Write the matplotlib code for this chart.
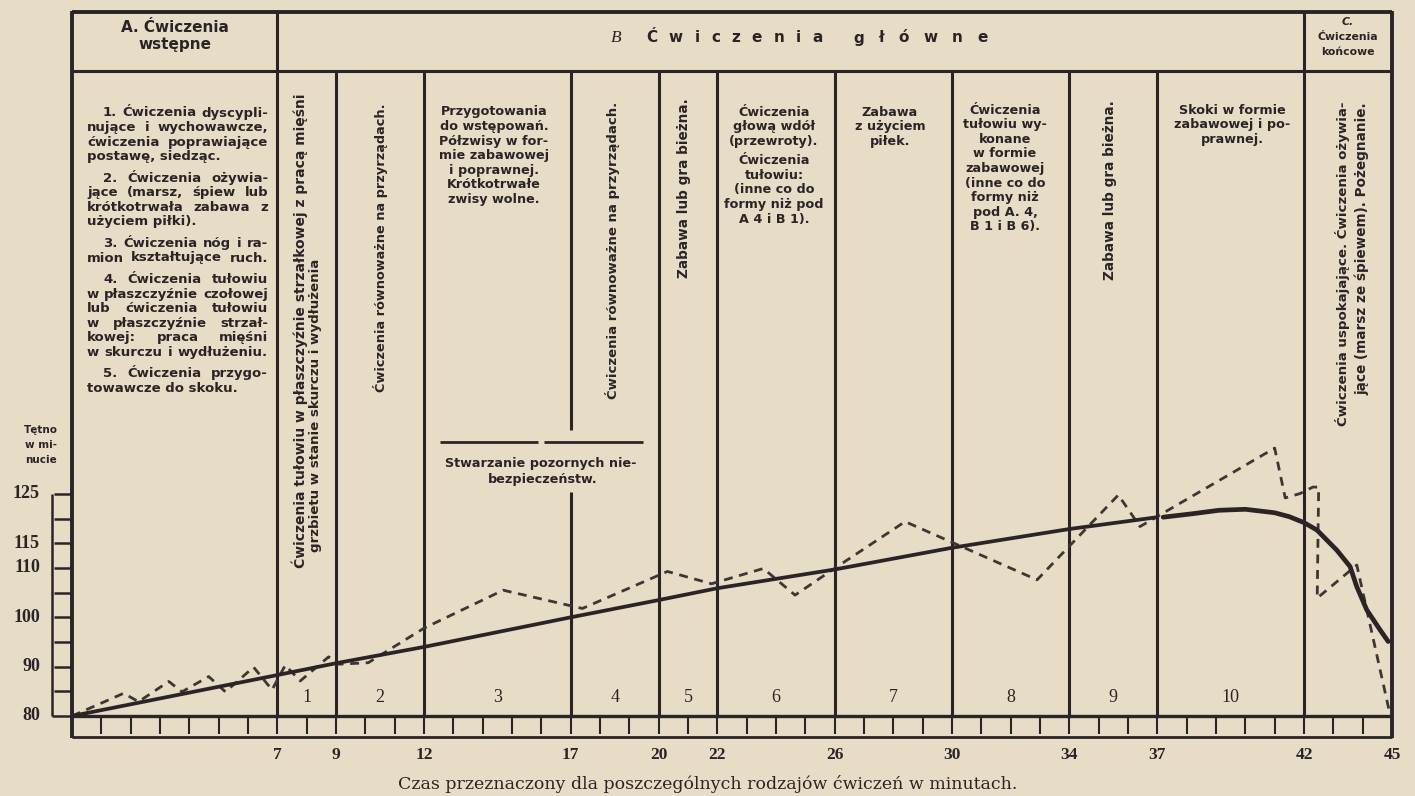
import matplotlib
matplotlib.use("Agg")
import matplotlib.pyplot as plt
from matplotlib.transforms import blended_transform_factory as blend

# ---------------------------------------------------------------- data
# boundaries between the exercise blocks (minutes)
block_edges = [7, 9, 12, 17, 20, 22, 26, 30, 34, 37, 42]
minute_labels = [7, 9, 12, 17, 20, 22, 26, 30, 34, 37, 42, 45]
block_numbers = ["1", "2", "3", "4", "5", "6", "7", "8", "9", "10"]
block_centres = [8, 10.5, 14.5, 18.5, 21, 24, 28, 32, 35.5, 39.5]
pulse_ticks = [80, 85, 90, 95, 100, 105, 110, 115, 120, 125]
pulse_labels = [80, 90, 100, 110, 115, 125]

# averaged pulse course (solid line), minutes 0-37
trend_min = [0, 7, 9, 12, 17, 20, 22, 26, 30, 34, 37]
trend_pulse = [80, 88.3, 90.7, 94.0, 100.0, 103.5, 105.9, 109.7, 114.1, 117.9, 120.3]

# averaged pulse course, closing part (minutes 37-45)
finish_min = [37.2, 38.2, 39.1, 40.0, 41.0, 41.5, 42.0, 42.44, 43.12, 43.57,
              43.8, 44.14, 44.6, 44.87]
finish_pulse = [120.3, 121.0, 121.7, 121.9, 121.2, 120.4, 119.2, 117.7, 113.6,
                110.3, 106.2, 101.5, 97.4, 95.1]

# measured pulse (dashed line)
pulse_min = [0, 1.76, 2.27, 3.3, 3.75, 4.66, 5.23, 6.19, 6.82, 7.27, 7.78, 8.75,
             9.1, 10.1, 12.0, 14.7, 17.4, 20.3, 21.8, 23.57, 24.65, 25.84, 28.4,
             32.9, 35.67, 36.41, 41.0, 41.36, 41.87, 42.3, 42.5, 42.45, 43.8, 44.9]
pulse_val = [80, 84.6, 82.9, 87.0, 84.9, 88.0, 84.9, 89.9, 85.3, 90.3, 87.1, 92.0,
             90.5, 90.8, 97.8, 105.5, 101.8, 109.3, 106.8, 109.9, 104.5, 109.3, 119.4,
             107.6, 124.8, 118.4, 134.3, 124.2, 125.1, 126.4, 126.4, 103.9, 110.6, 81.2]

header_a = ["A. Ćwiczenia", "wstępne"]
header_b_letter = "B"
header_b_words = ["Ćwiczenia", "główne"]
header_c = ["C.", "Ćwiczenia", "końcowe"]

intro_paragraphs = [
    ["1. Ćwiczenia dyscypli-", "nujące i wychowawcze,", "ćwiczenia poprawiające",
     "postawę, siedząc."],
    ["2. Ćwiczenia ożywia-", "jące (marsz, śpiew lub", "krótkotrwała zabawa z",
     "użyciem piłki)."],
    ["3. Ćwiczenia nóg i ra-", "mion kształtujące ruch."],
    ["4. Ćwiczenia tułowiu", "w płaszczyźnie czołowej", "lub ćwiczenia tułowiu",
     "w płaszczyźnie strzał-", "kowej: praca mięśni", "w skurczu i wydłużeniu."],
    ["5. Ćwiczenia przygo-", "towawcze do skoku."],
]
# paragraph endings that are set ragged instead of justified
ragged_lines = ["postawę, siedząc.", "użyciem piłki).", "towawcze do skoku."]

block1_text = ["Ćwiczenia tułowiu w płaszczyźnie strzałkowej z pracą mięśni",
               "grzbietu w stanie skurczu i wydłużenia"]
balance_text = "Ćwiczenia równoważne na przyrządach."
run_game_text = "Zabawa lub gra bieżna."
block3_text = ["Przygotowania", "do wstępowań.", "Półzwisy w for-", "mie zabawowej",
               "i poprawnej.", "Krótkotrwałe", "zwisy wolne."]
danger_text = ["Stwarzanie pozornych nie-", "bezpieczeństw."]
block6_text = ["Ćwiczenia", "głową wdół", "(przewroty).", "Ćwiczenia", "tułowiu:",
               "(inne co do", "formy niż pod", "A 4 i B 1)."]
block7_text = ["Zabawa", "z użyciem", "piłek."]
block8_text = ["Ćwiczenia", "tułowiu wy-", "konane", "w formie", "zabawowej",
               "(inne co do", "formy niż", "pod A. 4,", "B 1 i B 6)."]
block10_text = ["Skoki w formie", "zabawowej i po-", "prawnej."]
final_text = ["Ćwiczenia uspokajające. Ćwiczenia ożywia-",
              "jące (marsz ze śpiewem). Pożegnanie."]
pulse_title = ["Tętno", "w mi-", "nucie"]
time_title = "Czas przeznaczony dla poszczególnych rodzajów ćwiczeń w minutach."

# ---------------------------------------------------------------- figure
W, H = 1415, 796
PAPER = "#e7ddc6"
INK = "#2b2427"
DASH = "#3d3634"

plt.rcParams["font.family"] = ["DejaVu Sans"]
fig = plt.figure(figsize=(W / 100, H / 100), dpi=100, facecolor=PAPER)

# pixel-based layer for the table frame and its texts
lay = fig.add_axes([0, 0, 1, 1])
lay.set_xlim(0, W)
lay.set_ylim(H, 0)
lay.axis("off")

# the graph itself: minutes 0-45, pulse 80-125
GX0, GX1, GY80, GY125 = 72, 1392, 716, 494
ax = fig.add_axes([GX0 / W, 1 - GY80 / H, (GX1 - GX0) / W, (GY80 - GY125) / H])
ax.set_xlim(0, 45)
ax.set_ylim(80, 125)
ax.axis("off")

mx = blend(ax.transData, lay.transData)   # x: minutes, y: pixels
py = blend(lay.transData, ax.transData)   # x: pixels, y: pulse

renderer = fig.canvas.get_renderer()

SANS_B = dict(family="DejaVu Sans", weight="bold", color=INK)
SERIF_B = dict(family="Liberation Serif", weight="bold", color=INK)
SERIF = dict(family="Liberation Serif", color=INK)


def seg(xs, ys, tr, lw=2.2, color=INK):
    lay.plot(xs, ys, transform=tr, color=color, lw=lw, solid_capstyle="butt",
             clip_on=False)


def width_of(t):
    return t.get_window_extent(renderer=renderer).width


def justify(words, x_left, x_right, y, size):
    objs = [lay.text(x_left, y, w, ha="left", va="center", fontsize=size, **SANS_B)
            for w in words]
    widths = [width_of(o) for o in objs]
    gap = (x_right - x_left - sum(widths)) / max(len(words) - 1, 1)
    x = x_left
    for o, w in zip(objs, widths):
        o.set_x(x)
        x += w + gap


def tracked(x, y, s, track, **kw):
    for ch in s:
        t = lay.text(x, y, ch, ha="left", va="center", **kw)
        x += width_of(t) + track


def stacked(xc, y0, lines, dy, size, gaps=()):
    y = y0
    for i, line in enumerate(lines):
        if i in gaps:
            y += 5
        lay.text(xc, y, line, ha="center", va="center", fontsize=size, **SANS_B)
        y += dy


def rotated(x, y, s, size, anchor="top"):
    ha = "right" if anchor == "top" else "left"
    lay.text(x, y, s, rotation=90, rotation_mode="anchor", ha=ha, va="center",
             fontsize=size, **SANS_B)


# ---- frame
seg([0, 45], [12, 12], mx, lw=2.8)
seg([0, 45], [71, 71], mx, lw=2.2)
seg([0, 0], [11, 738], mx, lw=2.8)
seg([45, 45], [11, 738], mx, lw=2.8)
for m in block_edges:
    if m in (7, 42):
        seg([m, m], [12, 716], mx)
    elif m == 17:
        seg([m, m], [71, 430], mx)
        seg([m, m], [492, 716], mx)
    else:
        seg([m, m], [71, 716], mx)

# time ruler under the graph
seg([0, 45], [716, 716], mx, lw=2.4)
seg([0, 45], [737, 737], mx, lw=2.0)
for m in range(1, 45):
    seg([m, m], [716, 734], mx, lw=1.5)
for m in minute_labels:
    lay.text(m, 755, str(m), transform=mx, ha="center", va="center",
             fontsize=12.5, **SERIF_B)
lay.text(708, 784, time_title, ha="center", va="center", fontsize=12.5,
         family="DejaVu Serif", color=INK)

# pulse scale on the left
seg([52, 52], [80, 125], py, lw=1.8)
for p in pulse_ticks:
    seg([54, 72] if p != 80 else [52, 72], [p, p], py, lw=1.8)
for p in pulse_labels:
    lay.text(40, p, str(p), transform=py, ha="right", va="center",
             fontsize=13, **SERIF_B)
for i, line in enumerate(pulse_title):
    lay.text(41, 430 + 15 * i, line, ha="center", va="center", fontsize=7.5, **SANS_B)

# block numbers
for c, n in zip(block_centres, block_numbers):
    lay.text(c, 698, n, transform=mx, ha="center", va="center", fontsize=13, **SERIF)

# ---- pulse curves
ax.plot(pulse_min, pulse_val, color=DASH, lw=2.0, ls=(0, (3.2, 2.4)), clip_on=False)
ax.plot(trend_min, trend_pulse, color=INK, lw=2.7, clip_on=False,
        solid_capstyle="round")
ax.plot(finish_min, finish_pulse, color=INK, lw=3.4, clip_on=False,
        solid_capstyle="round", solid_joinstyle="round")

# ---- header row
for i, line in enumerate(header_a):
    lay.text(175, 27 + 18 * i, line, ha="center", va="center", fontsize=11, **SANS_B)
lay.text(616, 38, header_b_letter, ha="center", va="center", fontsize=12.5,
         style="italic", family="Liberation Serif", color=INK)
tracked(646, 38, header_b_words[0], 11.5, fontsize=11, **SANS_B)
tracked(853, 38, header_b_words[1], 14.5, fontsize=11, **SANS_B)
for i, line in enumerate(header_c):
    lay.text(1348, 22 + 15 * i, line, ha="center", va="center", fontsize=7.8,
             style="italic" if i == 0 else "normal", **SANS_B)

# ---- part A description (justified paragraphs)
y = 113
for para in intro_paragraphs:
    for j, line in enumerate(para):
        left = 103 if j == 0 else 87
        if line in ragged_lines:
            lay.text(left, y, line, ha="left", va="center", fontsize=9.5, **SANS_B)
        else:
            justify(line.split(), left, 268, y, 9.5)
        y += 14.6
    y += 6.8

# ---- part B columns
rotated(300, 93, block1_text[0], 10.0, anchor="top")
rotated(316, 552, block1_text[1], 9.6, anchor="bottom")
rotated(380, 103, balance_text, 9.3)
stacked(494, 112, block3_text, 14.6, 9.2)
rotated(612, 102, balance_text, 9.5)
rotated(684, 98, run_game_text, 9.8)
stacked(774, 112, block6_text, 14.6, 9.2, gaps=(3,))
stacked(890, 112, block7_text, 14.6, 9.2)
stacked(1005, 110, block8_text, 14.6, 9.2)
rotated(1110, 100, run_game_text, 9.8)
stacked(1232, 110, block10_text, 14.6, 9.2)

seg([440, 538], [442, 442], lay.transData, lw=2.0)
seg([544, 643], [442, 442], lay.transData, lw=2.0)
lay.text(541, 463, danger_text[0], ha="center", va="center", fontsize=9.2, **SANS_B)
lay.text(543, 479, danger_text[1], ha="center", va="center", fontsize=9.2, **SANS_B)

# ---- part C column
rotated(1342, 102, final_text[0], 9.6)
rotated(1362, 102, final_text[1], 9.8)

fig.savefig("out.png", dpi=100, facecolor=PAPER)
